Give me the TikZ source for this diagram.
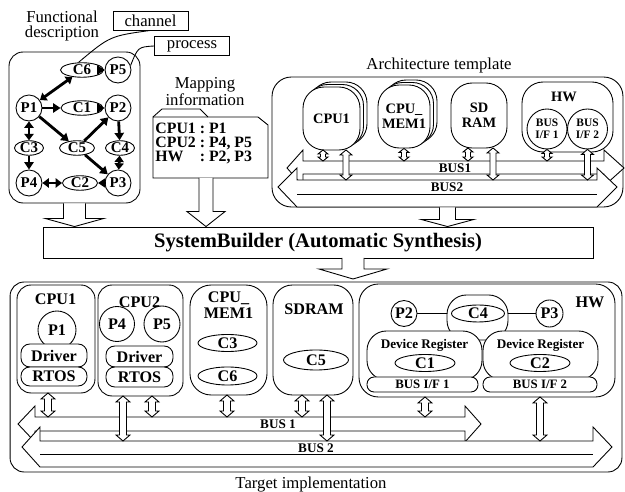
\documentclass[tikz,border=0pt]{standalone}
\usepackage{fontspec}
\setmainfont{Liberation Serif}
\usetikzlibrary{positioning, arrows.meta, calc, shapes.geometric}

% hollow double arrow from #1 (top) to #2 (bottom): shaft half, head half, head length
\newcommand\buslink[5]{%
  \draw[fill=white] (#1) -- ($(#1)+(#4,#5)$) -- ($(#1)+(#3,#5)$) -- ($(#2)+(#3,-#5)$)
    -- ($(#2)+(#4,-#5)$) -- (#2) -- ($(#2)+(-#4,-#5)$) -- ($(#2)+(-#3,-#5)$)
    -- ($(#1)+(-#3,#5)$) -- ($(#1)+(-#4,#5)$) -- cycle;}
% hollow arrow pointing down from #1 to the tip #2
\newcommand\flowdown[5]{%
  \draw[fill=white] ($(#1)+(-#3,0)$) -- ($(#2)+(-#3,-#5)$) -- ($(#2)+(-#4,-#5)$) -- (#2)
    -- ($(#2)+(#4,-#5)$) -- ($(#2)+(#3,-#5)$) -- ($(#1)+(#3,0)$);}

\begin{document}
\begin{tikzpicture}[x=0.02cm, y=-0.02cm, line width=0.5pt,
    title/.style={font=\fontsize{9.5}{8.5}\selectfont, align=center, inner sep=0pt},
    grp/.style={draw, fill=white, rounded corners=8pt, inner sep=0pt},
    proc/.style={circle, draw, fill=white, inner sep=0pt, minimum size=5.2mm,
      font=\fontsize{8.5}{9}\selectfont\bfseries},
    chan/.style={ellipse, draw, fill=white, inner sep=0pt, minimum height=2.9mm,
      font=\fontsize{8.5}{9}\selectfont\bfseries},
    flow/.style={line width=1.6pt, -{Triangle[length=4.2pt,width=5.2pt]}},
    flows/.style={line width=1.6pt, {Triangle[length=3.6pt,width=5.2pt]}-{Triangle[length=3.6pt,width=5.2pt]}},
    callout/.style={draw, fill=white, inner sep=0pt, minimum width=15mm, minimum height=3.8mm,
      font=\fontsize{9.5}{10}\selectfont},
    core/.style={draw, fill=white, rounded corners=12pt, inner sep=0pt, align=center,
      font=\fontsize{8.2}{8.5}\selectfont\bfseries},
    ifc/.style={circle, draw, fill=white, inner sep=0pt, minimum size=8mm, align=center,
      font=\fontsize{6.5}{7}\selectfont\bfseries},
    unit/.style={draw, fill=white, rounded corners=8pt, inner sep=0pt},
    tag/.style={font=\fontsize{9.2}{9}\selectfont\bfseries, align=center, inner sep=0pt},
    pill/.style={draw, fill=white, rounded corners=5pt, inner sep=0pt,
      font=\fontsize{9.2}{9}\selectfont\bfseries},
    tproc/.style={circle, draw, fill=white, inner sep=0pt, minimum size=7mm,
      font=\fontsize{9.2}{9}\selectfont\bfseries},
    store/.style={ellipse, draw, fill=white, inner sep=0pt, minimum height=3.4mm,
      font=\fontsize{9.2}{9}\selectfont\bfseries},
    busname/.style={font=\fontsize{7.5}{8}\selectfont\bfseries, inner sep=0pt}]
  \useasboundingbox (0,0) rectangle (625,492);

  % Functional description
  \node[title] (ftitle) at (62,26) {Functional\\description};
  \node[grp, minimum width=26.2mm, minimum height=30.2mm] (fbox) at (74.5,127.5) {};
  \node[proc] (P5) at (118,70)  {P5};
  \node[proc] (P1) at (29,108)  {P1};
  \node[proc] (P2) at (118,108) {P2};
  \node[proc] (P4) at (29,183)  {P4};
  \node[proc] (P3) at (118,183) {P3};
  \node[chan, minimum width=8.6mm] (C6) at (82,70)  {C6};
  \node[chan, minimum width=8.4mm] (C1) at (82,108) {C1};
  \node[chan, minimum width=5.8mm] (C3) at (29,148) {C3};
  \node[chan, minimum width=7mm]   (C5) at (77,148) {C5};
  \node[chan, minimum width=5.8mm] (C4) at (120,148) {C4};
  \node[chan, minimum width=7mm]   (C2) at (80,183) {C2};
  \path[flow]
    (C6) edge (P5)
    (P1) edge (C1)
    (C1) edge (P2)
    (P1) edge (C5)
    (C5) edge (P2)
    (C5) edge (P3)
    (P2) edge (C4)
    (C3) edge (P4)
    (P3) edge (C2);
  \path[flows]
    (C6) edge (P1)
    (P1) edge (C3)
    (C4) edge (P3)
    (C2) edge (P4);
  \node[callout] (chanl) at (150.5,20.5) {channel};
  \node[callout] (procl) at (192,46) {process};
  \draw (chanl.south) .. controls (110,36) .. (C6.115);
  \draw (procl.west) .. controls (138,47) .. (P5.20);

  % Mapping information
  \node[title] (mtitle) at (205,92) {Mapping\\information};
  \draw[fill=white] (153,117) -- (258,117) -- (268,125) -- (268,178) -- (153,178) -- cycle;
  \draw (153,117) -- (162,109) -- (200,109) -- (208,117);
  \node[anchor=west, inner sep=0pt, font=\fontsize{9}{6.8}\selectfont\bfseries] (map) at (155,144)
    {\begin{tabular}{@{}l@{\ :\ }l@{}}CPU1 & P1\\ CPU2 & P4, P5\\ HW & P2, P3\end{tabular}};
  \coordinate (mapb) at (206,178);

  % Architecture template
  \node[title] (atitle) at (439,65) {Architecture template};
  \node[grp, rounded corners=11pt, minimum width=70.2mm, minimum height=26mm] (abox) at (447.5,142) {};
  \node[core, minimum width=11.4mm, minimum height=12.6mm] (cpuA3) at (338.5,113.5) {};
  \node[core, minimum width=11.4mm, minimum height=12.6mm] (cpuA2) at (335,116) {};
  \node[core, minimum width=11.4mm, minimum height=12.6mm] (cpuA)  at (331.5,118.5) {CPU1};
  \node[core, minimum width=10.4mm, minimum height=12.6mm] (memA3) at (411,111.5) {};
  \node[core, minimum width=10.4mm, minimum height=12.6mm] (memA2) at (407.5,114) {};
  \node[core, minimum width=10.4mm, minimum height=12.6mm] (memA)  at (404,116.5) {CPU\_\\MEM1};
  \node[core, minimum width=11.2mm, minimum height=13mm] (sdA) at (479,115.5) {SD\\RAM};
  \node[core, minimum width=18.2mm, minimum height=14mm] (hwA) at (567.5,117) {};
  \node[tag, font=\fontsize{8.2}{8.5}\selectfont\bfseries] (hwAl) at (564,97) {HW};
  \node[ifc] (ifA1) at (547,129) {BUS\\I/F 1};
  \node[ifc] (ifA2) at (587.5,129) {BUS\\I/F 2};
  % buses
  \draw[fill=white] (287,168) -- (303,150) -- (303,161) -- (604,161) -- (604,150) -- (624,168)
    -- (604,186) -- (604,174) -- (303,174) -- (303,186) -- cycle;
  \draw[fill=white] (278,187) -- (297,168) -- (297,180) -- (597,180) -- (597,168) -- (617,187)
    -- (597,207) -- (297,207) -- cycle;
  \draw (297,194) -- (597,194);
  \node[busname] (abus1) at (455,168) {BUS1};
  \node[busname] (abus2) at (447,187.5) {BUS2};
  \coordinate (ab1) at (0,161);
  \coordinate (ab2) at (0,180);
  \coordinate (a1) at (323,150); \coordinate (a1b) at (a1 |- ab1);
  \coordinate (a2) at (346,150); \coordinate (a2b) at (a2 |- ab2);
  \coordinate (a3) at (memA.south); \coordinate (a3b) at (a3 |- ab1);
  \coordinate (a4) at (468,148); \coordinate (a4b) at (a4 |- ab1);
  \coordinate (a5) at (493,148); \coordinate (a5b) at (a5 |- ab2);
  \coordinate (a6) at (ifA1.south); \coordinate (a6b) at (a6 |- ab1);
  \coordinate (a7) at (ifA2.south); \coordinate (a7b) at (a7 |- ab2);
  \buslink{a1}{a1b}{2.5}{5}{4}
  \buslink{a2}{a2b}{3}{6}{5}
  \buslink{a3}{a3b}{2.5}{5}{4}
  \buslink{a4}{a4b}{2.5}{5}{4}
  \buslink{a5}{a5b}{3}{6}{5}
  \buslink{a6}{a6b}{2.5}{5}{4}
  \buslink{a7}{a7b}{3}{6}{5}

  % SystemBuilder
  \node[draw, fill=white, inner sep=0pt, minimum width=110mm, minimum height=6.2mm,
    font=\fontsize{11.7}{12}\selectfont\bfseries] (sb) at (318,242.5) {SystemBuilder (Automatic Synthesis)};
  \coordinate (ftip) at (fbox.south |- sb.north);
  \coordinate (mtip) at (mapb |- sb.north);
  \coordinate (atip) at (abox.south |- sb.north);
  \flowdown{fbox.south}{ftip}{11}{29}{8}
  \flowdown{mapb}{mtip}{7}{19}{15}
  \flowdown{abox.south}{atip}{8}{26}{7}

  % Target implementation
  \node[grp, minimum width=122.4mm, minimum height=38mm] (tbox) at (316,377) {};
  \coordinate (sbb) at (353,258);
  \coordinate (sbtip) at (353,279);
  \flowdown{sbb}{sbtip}{11}{34}{10}
  \node[unit, minimum width=15.6mm, minimum height=21.6mm] (cpu1) at (56,339) {};
  \node[tag] (cpu1l) at (55.5,299) {CPU1};
  \node[tproc, minimum size=7.6mm] (tP1) at (57,330) {P1};
  \node[pill, minimum width=13.2mm, minimum height=4.6mm] (drv1) at (54,355.5) {Driver};
  \node[pill, minimum width=13.2mm, minimum height=3.8mm] (os1) at (54,376.5) {RTOS};

  \node[unit, minimum width=17mm, minimum height=22.2mm] (cpu2) at (140.5,340.5) {};
  \node[tproc] (tP4) at (117,324) {P4};
  \node[tproc, minimum size=7.2mm] (tP5) at (162,324) {P5};
  \node[tag] (cpu2l) at (139.5,302) {CPU2};
  \node[pill, minimum width=13.4mm, minimum height=4.2mm] (drv2) at (139.5,356.5) {Driver};
  \node[pill, minimum width=13.4mm, minimum height=4mm] (os2) at (139.5,377) {RTOS};

  \node[unit, rounded corners=12pt, minimum width=15.4mm, minimum height=22mm] (mem) at (228.5,340) {};
  \node[tag] (meml) at (228.5,305) {CPU\_\\MEM1};
  \node[store, minimum width=11.8mm] (tC3) at (227.5,343) {C3};
  \node[store, minimum width=11.8mm, minimum height=3.6mm] (tC6) at (227.5,376) {C6};

  \node[unit, rounded corners=11pt, minimum width=16mm, minimum height=22mm] (sdr) at (313,340) {};
  \node[tag] (sdrl) at (314,309) {SDRAM};
  \node[store, minimum width=13mm, minimum height=4mm] (tC5) at (316,360) {C5};

  \node[unit, rounded corners=11pt, minimum width=51.2mm, minimum height=22.6mm] (hw) at (487,340.5) {};
  \node[tag] (hwl) at (590,302) {HW};
  \node[draw, fill=white, rounded corners=11pt, minimum width=12.2mm, minimum height=9mm] (wrap) at (477.5,317.5) {};
  \node[store, minimum width=10.6mm] (tC4) at (478,313.5) {C4};
  \node[tproc, minimum size=5.2mm] (tP2) at (404,313.5) {P2};
  \node[tproc, minimum size=5.4mm] (tP3) at (549.5,313.5) {P3};
  \draw (tP2) -- (tP2 -| wrap.west);
  \draw (tP3) -- (tP3 -| wrap.east);
  \node[unit, rounded corners=11pt, minimum width=23mm, minimum height=9.8mm] (reg1) at (424.5,355.5) {};
  \node[unit, rounded corners=11pt, minimum width=23mm, minimum height=9.8mm] (reg2) at (540.5,355.5) {};
  \node[busname] (reg1l) at (424.5,345) {Device Register};
  \node[busname] (reg2l) at (540.5,345) {Device Register};
  \node[store, minimum width=12mm] (tC1) at (425,363) {C1};
  \node[store, minimum width=12mm] (tC2) at (540,363) {C2};
  \node[pill, rounded corners=4pt, minimum width=22.2mm, minimum height=3mm, font=\fontsize{7.3}{8}\selectfont\bfseries] (if1) at (422.5,384.5) {BUS I/F 1};
  \node[pill, rounded corners=4pt, minimum width=22.8mm, minimum height=3mm, font=\fontsize{7.3}{8}\selectfont\bfseries] (if2) at (540,384.5) {BUS I/F 2};

  % buses
  \draw[fill=white] (18,424) -- (35,406) -- (35,417) -- (465,417) -- (465,406) -- (481,424)
    -- (465,442) -- (465,431) -- (35,431) -- (35,442) -- cycle;
  \draw[fill=white] (22,447) -- (40,427) -- (40,441) -- (593,441) -- (593,427) -- (612,447)
    -- (593,467) -- (40,467) -- cycle;
  \draw (40,454) -- (593,454);
  \node[busname] (tbus1) at (278,424.5) {BUS 1};
  \node[busname] (tbus2) at (316,448) {BUS 2};
  \coordinate (tb1) at (0,417);
  \coordinate (tb2) at (0,441);
  \coordinate (t1) at (48,393);  \coordinate (t1b) at (t1 |- tb1);
  \coordinate (t2) at (123,396); \coordinate (t2b) at (t2 |- tb2);
  \coordinate (t3) at (152,396); \coordinate (t3b) at (t3 |- tb1);
  \coordinate (t4) at (227,395); \coordinate (t4b) at (t4 |- tb1);
  \coordinate (t5) at (302,395); \coordinate (t5b) at (t5 |- tb1);
  \coordinate (t6) at (327,395); \coordinate (t6b) at (t6 |- tb2);
  \coordinate (t7) at (425,397); \coordinate (t7b) at (t7 |- tb1);
  \coordinate (t8) at (540,397); \coordinate (t8b) at (t8 |- tb2);
  \buslink{t1}{t1b}{3.5}{7}{6}
  \buslink{t2}{t2b}{3.5}{7}{6}
  \buslink{t3}{t3b}{3.5}{7}{6}
  \buslink{t4}{t4b}{3.5}{7}{6}
  \buslink{t5}{t5b}{3.5}{7}{6}
  \buslink{t6}{t6b}{3.5}{7}{6}
  \buslink{t7}{t7b}{3.5}{7}{6}
  \buslink{t8}{t8b}{3.5}{7}{6}
  \node[title] (ttitle) at (311,485) {Target implementation};
\end{tikzpicture}
\end{document}
